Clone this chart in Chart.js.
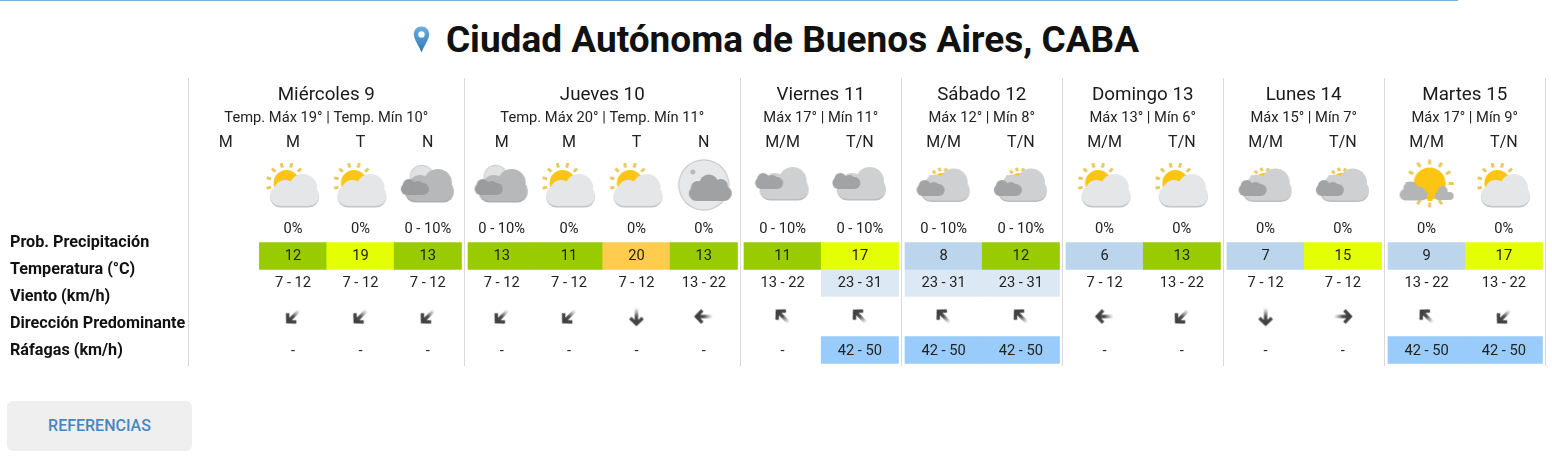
<!DOCTYPE html>
<html lang="es">
<head>
<meta charset="utf-8">
<title>Pronóstico CABA</title>
<script src="https://cdn.jsdelivr.net/npm/chart.js@4/dist/chart.umd.js"></script>
<style>
    html, body { margin: 0; padding: 0; background: #fff; }
    body { position: relative; width: 1552px; height: 465px; overflow: hidden; font-family: Roboto, sans-serif; }
    .top-rule { position: absolute; left: 0; top: 0; width: 1458px; height: 1px; background: #74aed9; }
    .place { position: absolute; left: 0; top: 14px; width: 1552px; height: 50px; display: flex; justify-content: center; align-items: center; }
    .place svg { margin-right: 16px; }
    .place h1 { margin: 0; font: 700 37px Roboto, sans-serif; color: #111; }
    #wrap { position: absolute; left: 0; top: 78px; width: 1552px; height: 288px; }
    .refs { position: absolute; left: 7px; top: 401px; width: 185px; height: 50px; text-align: center;
            background: #efefef; border-radius: 6px; color: #4a86bd; font: 500 16px/50px Roboto, sans-serif; }
</style>
</head>
<body>
<div class="top-rule"></div>
<div class="place">
    <svg width="17" height="27" viewBox="0 0 17 27">
        <defs><linearGradient id="pin" x1="0" y1="0" x2="0" y2="1"><stop offset="0" stop-color="#6aaee0"/><stop offset="1" stop-color="#2f78b8"/></linearGradient></defs>
        <path fill-rule="evenodd" fill="url(#pin)" d="M8.5 0.5C4 0.5 0.8 3.9 0.8 8.2c0 5 5.2 11.6 7.7 18.3C11 19.8 16.2 13.200 16.2 8.2 16.200 3.900 13 0.500 8.500 0.500zM8.500 5.200a3.200 3.200 0 1 1 0 6.400a3.200 3.200 0 1 1 0-6.400z"/>
    </svg>
    <h1>Ciudad Autónoma de Buenos Aires, CABA</h1>
</div>
<div id="wrap"><canvas id="tabla" width="1552" height="288"></canvas></div>
<div class="refs">REFERENCIAS</div>

<script>
// ========
// Data
// ========
const days = ["Miércoles 9", "Jueves 10", "Viernes 11", "Sábado 12", "Domingo 13", "Lunes 14", "Martes 15"];
const dayTemps = [
    "Temp. Máx 19° | Temp. Mín 10°", "Temp. Máx 20° | Temp. Mín 11°", "Máx 17° | Mín 11°", "Máx 12° | Mín 8°",
    "Máx 13° | Mín 6°", "Máx 15° | Mín 7°", "Máx 17° | Mín 9°"
];
const daySlots = [
    ["M", "M", "T", "N"], ["M", "M", "T", "N"], ["M/M", "T/N"], ["M/M", "T/N"],
    ["M/M", "T/N"], ["M/M", "T/N"], ["M/M", "T/N"]
];
const rowLabels = ["Prob. Precipitación", "Temperatura (°C)", "Viento (km/h)", "Dirección Predominante", "Ráfagas (km/h)"];

// One entry per slot, day after day (the first "M" of Miércoles has no data)
const skies = [null, "sun", "sun", "moon", "moon", "sun", "sun", "fullMoon", "cloudy", "cloudy", "lowSun", "lowSun", "sun", "sun", "lowSun", "lowSun", "bigSun", "sun"];
const precip = [null, "0%", "0%", "0 - 10%", "0 - 10%", "0%", "0%", "0%", "0 - 10%", "0 - 10%", "0 - 10%", "0 - 10%", "0%", "0%", "0%", "0%", "0%", "0%"];
const temps = [null, 12, 19, 13, 13, 11, 20, 13, 11, 17, 8, 12, 6, 13, 7, 15, 9, 17];
const wind = [null, "7 - 12", "7 - 12", "7 - 12", "7 - 12", "7 - 12", "7 - 12", "13 - 22", "13 - 22", "23 - 31", "23 - 31", "23 - 31", "7 - 12", "13 - 22", "7 - 12", "7 - 12", "13 - 22", "13 - 22"];
const windDeg = [null, 225, 225, 225, 225, 225, 180, 270, 315, 315, 315, 315, 270, 225, 180, 90, 315, 225];
const gusts = [null, "-", "-", "-", "-", "-", "-", "-", "-", "42 - 50", "42 - 50", "42 - 50", "-", "-", "-", "-", "42 - 50", "42 - 50"];

// ========
// Layout
// ========
const tableLeft = 188.25;
const wideDay = 276, narrowDay = 161, gutterLeft = 3.75, gutterRight = 2.75;
const rowY = { day: 17, range: 40, slot: 65, sky: 108, precip: 151, temp: 178, wind: 205, dir: 238.5, gust: 272 };
const labelY = [165, 192, 219, 246, 273];

// Work out the slot edges and the day dividers from the day widths
const dividers = [tableLeft];
const slots = [];
daySlots.forEach((names, d) => {
    const left = dividers[d] + gutterLeft;
    const w = names.length === 4 ? wideDay : narrowDay;
    const cell = (w - gutterLeft - gutterRight) / names.length;
    names.forEach((n, i) => slots.push({ name: n, start: left + i * cell, end: left + (i + 1) * cell }));
    dividers.push(dividers[d] + w);
});
const mid = s => (s.start + s.end) / 2;

// ==============
// Colour scales
// ==============
function tempColor(t) {
    if (t >= 20) return "#ffcc4d";
    if (t >= 14) return "#e4ff03";
    if (t >= 10) return "#99cc00";
    return "#bbd5ed";
}
const windColor = w => (w === "23 - 31" ? "#dce9f5" : "rgba(0,0,0,0)");
const gustColor = g => (g === "42 - 50" ? "#99ccfb" : "rgba(0,0,0,0)");

// ===============
// Icon painting
// ===============
function blob(c, parts, fill) {
    c.fillStyle = fill;
    parts.forEach(p => {
        c.beginPath();
        if (p.length === 3) c.arc(p[0], p[1], p[2], 0, Math.PI * 2);
        else c.roundRect(p[0], p[1], p[2], p[3], p[3] / 2);
        c.fill();
    });
}
function cloud(c, x, y, fill, edge) {
    const parts = [[x + 9, y - 6, 14], [x - 9, y - 3, 11], [x - 24, y - 9, 49, 21]];
    blob(c, parts.map(p => p.length === 3 ? [p[0], p[1] + 1.6, p[2]] : [p[0], p[1] + 1.6, p[2], p[3]]), edge);
    blob(c, parts, fill);
}
function smallCloud(c, x, y, fill) {
    blob(c, [[x - 14, y + 3, 28, 12], [x - 6, y + 5, 6], [x + 3, y + 7, 6]], fill);
}
function sun(c, x, y, r, from, to, rayIn, rayOut) {
    c.strokeStyle = "#e9c75e";
    c.lineWidth = 3;
    c.lineCap = "butt";
    for (let a = from; a <= to; a += 30) {
        const t = a * Math.PI / 180;
        c.beginPath();
        c.moveTo(x + Math.cos(t) * rayIn, y + Math.sin(t) * rayIn);
        c.lineTo(x + Math.cos(t) * rayOut, y + Math.sin(t) * rayOut);
        c.stroke();
    }
    c.fillStyle = "#fdc513";
    c.beginPath();
    c.arc(x, y, r, 0, Math.PI * 2);
    c.fill();
}
function moonDisc(c, x, y, r, fill, edge) {
    c.fillStyle = edge;
    c.beginPath(); c.arc(x, y, r + 1.2, 0, Math.PI * 2); c.fill();
    c.fillStyle = fill;
    c.beginPath(); c.arc(x, y, r, 0, Math.PI * 2); c.fill();
}

const painters = {
    sun(c) {
        sun(c, -6.5, -3, 13, 165, 345, 16, 20.5);
        cloud(c, 1, 8, "#e5e6e7", "#c3c4c5");
    },
    moon(c) {
        moonDisc(c, -6, -9, 11, "#e1e2e3", "#d0d1d2");
        cloud(c, 1, 3, "#b7b8b9", "#acadae");
        smallCloud(c, -13, -6, "#9b9c9d");
    },
    cloudy(c) {
        cloud(c, 1, 1, "#cfd0d1", "#bcbdbe");
        smallCloud(c, -13.5, -12, "#a2a3a4");
    },
    lowSun(c) {
        sun(c, -2, -5, 8, 200, 340, 10, 13.5);
        cloud(c, 1, 2.5, "#cfd0d1", "#bcbdbe");
        smallCloud(c, -13, -5, "#a2a3a4");
    },
    fullMoon(c) {
        moonDisc(c, 0, -1, 24.5, "#e7e8e9", "#c9cacb");
        c.fillStyle = "#b9babb";
        c.beginPath(); c.arc(-11, -14, 2.5, 0, Math.PI * 2); c.fill();
        blob(c, [[-15, 0, 43, 15], [5, -2, 9.5], [17, 0, 7], [-6, 2, 7]], "#a0a1a2");
    },
    bigSun(c) {
        sun(c, 3, -2.5, 16, 0, 330, 19, 24);
        blob(c, [[-27, 3, 28, 11.5], [-16, 3, 7.5], [-7, 6, 5.5]], "#b4b5b6");
        blob(c, [[8, 6, 19, 8], [16, 5, 5]], "#b4b5b6");
        c.fillStyle = "#fdc513";
        c.fillRect(1, 8, 5, 7);
    }
};
function makeIcon(kind) {
    const cv = document.createElement("canvas");
    cv.width = 64; cv.height = 64;
    const c = cv.getContext("2d");
    c.translate(32, 32);
    painters[kind](c);
    return cv;
}
const skyIcons = {};
Object.keys(painters).forEach(k => { skyIcons[k] = makeIcon(k); });

// Arrow pointing up, the tail fades out. The scatter point rotates it
function makeArrow() {
    const cv = document.createElement("canvas");
    cv.width = 24; cv.height = 24;
    const c = cv.getContext("2d");
    const g = c.createLinearGradient(0, 3, 0, 21);
    g.addColorStop(0, "#3c3c3c");
    g.addColorStop(0.5, "#4a4a4a");
    g.addColorStop(1, "rgba(120,120,120,0)");
    c.strokeStyle = g;
    c.lineWidth = 3.4;
    c.beginPath();
    c.moveTo(12, 5); c.lineTo(12, 21);
    c.moveTo(5.8, 10.5); c.lineTo(12, 4.5); c.lineTo(18.2, 10.5);
    c.stroke();
    return cv;
}
const arrowIcon = makeArrow();

// ======================
// Text of the table
// ======================
const tableText = {
    id: "tableText",
    afterDatasetsDraw(chart) {
        const { ctx, scales: { x, y } } = chart;
        const put = (txt, px, row, font, color) => {
            if (txt === null) return;
            ctx.font = font;
            ctx.fillStyle = color || "#222";
            ctx.fillText(txt, x.getPixelForValue(px), y.getPixelForValue(row));
        };
        ctx.save();
        ctx.textBaseline = "middle";
        ctx.textAlign = "center";

        days.forEach((d, i) => {
            const c = (dividers[i] + dividers[i + 1]) / 2;
            put(d, c, rowY.day, "400 18.8px Roboto", "#1a1a1a");
            put(dayTemps[i], c, rowY.range, "400 14.7px Roboto");
        });
        const cellFont = "400 14.7px Roboto";
        slots.forEach((s, i) => {
            const c = mid(s);
            put(s.name, c, rowY.slot, "400 16px Roboto");
            put(precip[i], c, rowY.precip, cellFont);
            put(temps[i] === null ? null : String(temps[i]), c, rowY.temp, cellFont);
            put(wind[i], c, rowY.wind, cellFont);
            put(gusts[i], c, rowY.gust + 1, cellFont);
        });

        ctx.textAlign = "left";
        rowLabels.forEach((l, i) => put(l, 10, labelY[i], "700 16.2px Roboto", "#111"));
        ctx.restore();
    }
};

// ================================
// Coloured cells, icons and arrows
// ================================
function cellDataset(values, row, colorOf) {
    const cells = [];
    slots.forEach((s, i) => {
        if (values[i] !== null) cells.push({ x: [s.start, s.end], y: row, value: values[i] });
    });
    return {
        type: "bar",
        indexAxis: "y",
        grouped: false,
        barThickness: 27,
        borderWidth: 0,
        data: cells,
        backgroundColor: ctx => (ctx.raw ? colorOf(ctx.raw.value) : "rgba(0,0,0,0)")
    };
}
function pointsFor(values, row) {
    const pts = [];
    slots.forEach((s, i) => {
        if (values[i] !== null) pts.push({ x: mid(s), y: row, value: values[i] });
    });
    return pts;
}

new Chart(document.getElementById("tabla"), {
    type: "bar",
    plugins: [tableText],
    data: {
        datasets: [
            cellDataset(temps, rowY.temp, tempColor),
            cellDataset(wind, rowY.wind, windColor),
            cellDataset(gusts, rowY.gust, gustColor),
            {
                type: "scatter",
                indexAxis: "x",
                data: pointsFor(skies, rowY.sky),
                pointStyle: ctx => (ctx.raw ? skyIcons[ctx.raw.value] : "circle")
            },
            {
                type: "scatter",
                indexAxis: "x",
                data: pointsFor(windDeg, rowY.dir),
                pointStyle: arrowIcon,
                rotation: ctx => (ctx.raw ? ctx.raw.value : 0)
            }
        ]
    },
    options: {
        responsive: false,
        animation: false,
        events: [],
        layout: { padding: 0, autoPadding: false },
        plugins: { legend: { display: false }, tooltip: { enabled: false }, title: { display: false } },
        scales: {
            x: {
                type: "linear",
                position: "top",
                min: 0, max: 1552,
                offset: false,
                // Only grid lines on this axis: one divider per day
                afterBuildTicks: axis => { axis.ticks = dividers.map(v => ({ value: v })); },
                ticks: { display: false },
                border: { display: false },
                grid: { color: "#d9d9d9", lineWidth: 1, drawTicks: false, offset: false }
            },
            y: {
                type: "linear",
                display: false,
                reverse: true,
                min: 0, max: 288,
                offset: false,
                grid: { offset: false }
            }
        }
    }
});
</script>
</body>
</html>
